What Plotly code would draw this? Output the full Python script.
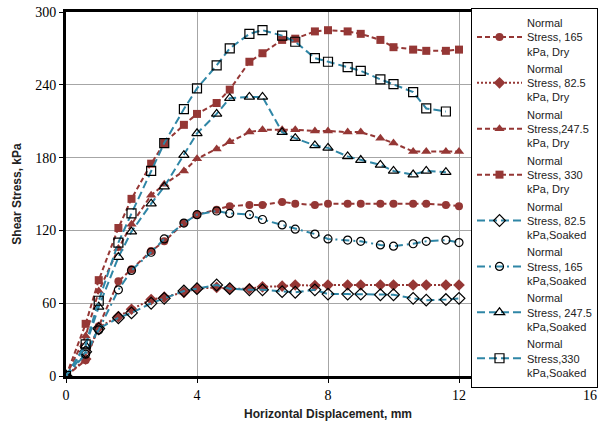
"""
Shear stress vs horizontal displacement, dry and soaked samples.
"""
import plotly.graph_objects as go

# displacement steps (mm)
x_full = [0, 0.6, 1, 1.6, 2, 2.6, 3, 3.6, 4, 4.6, 5, 5.6, 6, 6.6, 7, 7.6, 8,
          8.6, 9, 9.6, 10, 10.6, 11, 11.6, 12]
x_short = x_full[:-1]

# shear stress (kPa)
dry_165 = [0, 13, 41, 78, 88, 103, 111, 126, 133, 137, 140, 141, 141, 143.5,
           142, 141, 142, 142, 142, 142, 142, 142, 142, 141, 140]
dry_82 = [0, 14, 40, 49, 55, 63, 65, 69, 72, 73, 72, 72, 73.5, 74, 75, 74.5,
          75, 75, 75, 75, 75, 75, 75, 75, 75]
dry_247 = [0, 33, 70, 105, 125, 149, 158, 169, 179, 187, 193, 201, 203, 203,
           203, 202, 202, 201, 201, 196, 192, 185, 185, 185, 185]
dry_330 = [0, 43, 79, 122, 146, 175, 192, 207, 216, 225, 236, 259, 266, 277,
           278, 284, 285, 284, 282, 277, 271, 269, 268, 268, 269]
soaked_82 = [0, 20, 39, 48, 52, 60, 64, 70, 72, 75, 72, 71, 71, 69.5, 69, 71,
             67.5, 67.5, 67.5, 67, 67, 64, 62.5, 63, 64]
soaked_165 = [0, 18, 38, 71, 87, 102, 113, 126, 133, 136, 134, 133, 129, 124.5,
              121, 117, 113, 112, 111, 108, 107, 109, 111, 112, 110]
soaked_247 = [0, 25, 57, 98, 119, 142, 156, 182, 200, 216, 229, 230, 230, 201,
              196, 190, 188, 181, 178, 174, 169, 166, 169, 168]
soaked_330 = [0, 26, 62, 110, 134, 169, 192, 220, 237, 256, 270, 282, 285,
              280.5, 275.5, 262, 259, 254.5, 251.5, 244.5, 240.5, 234, 220.5, 218]

RED = '#953735'
BLUE = '#2F86A6'

series = [
    ("Normal<br>Stress, 165<br>kPa, Dry", x_full, dry_165, RED, '5px,3px', 'circle', 8),
    ("Normal<br>Stress, 82.5<br>kPa, Dry", x_full, dry_82, RED, '2px,2px', 'diamond', 9),
    ("Normal<br>Stress,247.5<br>kPa, Dry", x_full, dry_247, RED, '5px,3px', 'triangle-up', 9),
    ("Normal<br>Stress, 330<br>kPa, Dry", x_full, dry_330, RED, '5px,3px', 'square', 8),
    ("Normal<br>Stress, 82.5<br>kPa,Soaked", x_full, soaked_82, BLUE, '8px,4px', 'diamond-open', 9),
    ("Normal<br>Stress, 165<br>kPa,Soaked", x_full, soaked_165, BLUE, '8px,4px,2px,4px', 'circle-open', 8),
    ("Normal<br>Stress, 247.5<br>kPa,Soaked", x_short, soaked_247, BLUE, '8px,4px', 'triangle-up-open', 9),
    ("Normal<br>Stress,330<br>kPa,Soaked", x_short, soaked_330, BLUE, '8px,4px', 'square-open', 9),
]

fig = go.Figure()

for name, xs, ys, color, dash, symbol, size in series:
    open_marker = symbol.endswith('-open')
    fig.add_trace(go.Scatter(
        x=xs,
        y=ys,
        mode='lines+markers',
        name=name,
        line=dict(color=color, width=2, dash=dash),
        marker=dict(
            symbol=symbol,
            size=size,
            color='black' if open_marker else color,
            line=dict(width=1.2 if open_marker else 0, color='black' if open_marker else color)
        )
    ))

fig.update_layout(
    width=607,
    height=423,
    margin=dict(l=66, r=17, t=12, b=47, autoexpand=False),
    plot_bgcolor='white',
    paper_bgcolor='white',
    showlegend=True,
    legend=dict(
        xref='container', yref='container',
        x=471 / 607, y=1 - 8 / 423, xanchor='left', yanchor='top',
        maxheight=1,
        bgcolor='white', bordercolor='black', borderwidth=1,
        font=dict(family='Liberation Sans, Arial', size=11, color='#222'),
        itemwidth=45, tracegroupgap=0
    ),
    xaxis=dict(
        range=[0, 16], dtick=4, tick0=0,
        showgrid=True, gridcolor='#A6A6A6', gridwidth=1,
        showline=True, linecolor='black', linewidth=3, mirror=True,
        ticks='outside', ticklen=4, tickcolor='black',
        zeroline=False,
        tickfont=dict(family='Liberation Serif, Times New Roman', size=14, color='black'),
        title=dict(text='<b>Horizontal Displacement, mm</b>',
                   font=dict(family='Liberation Sans, Arial', size=12, color='#222'),
                   standoff=8)
    ),
    yaxis=dict(
        range=[0, 300], dtick=60, tick0=0,
        showgrid=True, gridcolor='#A6A6A6', gridwidth=1,
        showline=True, linecolor='black', linewidth=3, mirror=True,
        ticks='outside', ticklen=4, tickcolor='black',
        zeroline=False, ticklabeloverflow='allow',
        tickfont=dict(family='Liberation Serif, Times New Roman', size=14, color='black'),
        title=dict(text='<b>Shear Stress, kPa</b>',
                   font=dict(family='Liberation Sans, Arial', size=12, color='#222'),
                   standoff=12)
    )
)

# drop the default 8px page margin so the figure sits at the window corner
fig.write_html("out.html", config={'displayModeBar': False},
               post_script="document.body.style.margin = '0px';")
